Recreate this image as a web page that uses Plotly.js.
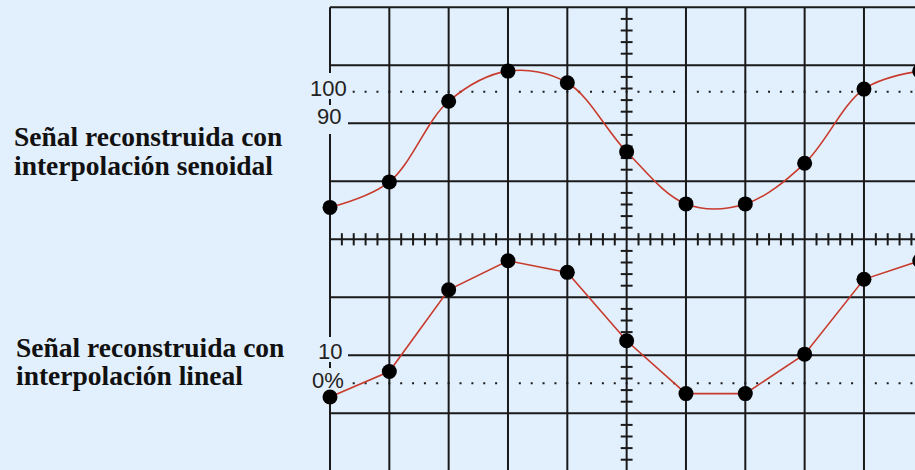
<!DOCTYPE html>
<html>
<head>
<meta charset="utf-8">
<script src="https://cdn.plot.ly/plotly-3.0.1.min.js"></script>
<style>
  body { margin: 0; background: #e2effc; }
</style>
</head>
<body>
<div id="osc" style="width:915px;height:470px;"></div>
<script>
// instantes de muestreo, en divisiones horizontales
var muestrasX = [0, 1, 2, 3, 4, 5, 6, 7, 8, 9, 9.94];
// canal superior: señal con interpolación senoidal (divisiones verticales)
var senoidalY = [0.55, 0.99, 2.38, 2.90, 2.70, 1.51, 0.61, 0.61, 1.31, 2.59, 2.90];
// canal inferior: señal con interpolación lineal
var linealY = [-2.72, -2.28, -0.87, -0.37, -0.57, -1.75, -2.66, -2.66, -1.98, -0.69, -0.37];
// marcas de nivel de la pantalla
var etiquetasNivel = ['100', '90', '10', '0%'];
var titulos = [
    ['Señal reconstruida con', 'interpolación senoidal'],
    ['Señal reconstruida con', 'interpolación lineal']
];

// la rejilla del osciloscopio: pasar de píxeles a divisiones
var X0 = 330, DX = 59.33, Y0 = 239.3, DY = 58;
function px(p) { return (p - X0) / DX; }
function py(p) { return (Y0 - p) / DY; }

var negro = '#1a1a1a';
var shapes = [];
function seg(x0, y0, x1, y1, w) {
    shapes.push({type: 'line', layer: 'below', x0: x0, y0: y0, x1: x1, y1: y1,
                 line: {color: negro, width: w || 2}});
}

// verticales
for (var i = 1; i <= 10; i++) seg(i, -4.2, i, 4);
// vertical izquierda, cortada por las etiquetas
seg(0, 4, 0, py(73));
seg(0, py(99), 0, py(105));
seg(0, py(134), 0, py(337));
seg(0, py(362), 0, py(368));
seg(0, py(398), 0, -4.2);
// horizontales
for (var j = -4; j <= 4; j++) {
    var inicio = (j == 2 || j == -2) ? px(348) : 0;
    seg(inicio, j, 10.5, j);
}
// subdivisiones en los ejes centrales
for (var k = -20; k <= 20; k++) {
    if (k % 5 == 0) continue;
    seg(5 - 0.1, k / 5, 5 + 0.1, k / 5);
}
for (var m = 1; m < 55; m++) {
    if (m % 5 == 0) continue;
    seg(m / 5, -0.105, m / 5, 0.105);
}
// niveles 100% y 0% punteados
[py(91.7), py(383.3)].forEach(function(yv) {
    shapes.push({type: 'line', layer: 'below', x0: 0.383, y0: yv, x1: 10.5, y1: yv,
                 line: {color: negro, width: 2, dash: '2px,9.866px'}});
});

var fuenteNivel = {family: 'Liberation Sans Narrow, Liberation Sans, Arial',
                   size: 22, color: '#222'};
var posNivel = [[328.5, 88], [328.5, 116], [329.7, 351], [327.5, 380]];
var annotations = etiquetasNivel.map(function(t, i) {
    return {text: t, x: px(posNivel[i][0]), y: py(posNivel[i][1]), xref: 'x', yref: 'y',
            showarrow: false, xanchor: 'center', yanchor: 'middle', font: fuenteNivel};
});

var fuenteTitulo = {family: 'Liberation Serif, Times New Roman, serif', size: 27.5,
                    color: '#111', weight: 'bold'};
var lineasY = [[136.5, 165.5], [347, 375.5]];
var lineasX = [11.5, 14];
titulos.forEach(function(lineas, i) {
    lineas.forEach(function(t, n) {
        annotations.push({text: '<b>' + t + '</b>', x: px(lineasX[i]), y: py(lineasY[i][n]),
                          xref: 'x', yref: 'y', showarrow: false,
                          xanchor: 'left', yanchor: 'middle', font: fuenteTitulo});
    });
});

var data = [
    {
        x: muestrasX, y: senoidalY, type: 'scatter', mode: 'lines+markers',
        line: {color: '#c83a2c', width: 1.6, shape: 'spline', smoothing: 1},
        marker: {color: '#000', size: 15}
    },
    {
        x: muestrasX, y: linealY, type: 'scatter', mode: 'lines+markers',
        line: {color: '#c83a2c', width: 1.6},
        marker: {color: '#000', size: 15}
    }
];

var layout = {
    width: 915, height: 470,
    margin: {l: 0, r: 0, t: 0, b: 0},
    paper_bgcolor: '#e2effc',
    plot_bgcolor: '#e2effc',
    showlegend: false,
    xaxis: {range: [px(0), px(915)], visible: false, showgrid: false, zeroline: false},
    yaxis: {range: [py(470), py(0)], visible: false, showgrid: false, zeroline: false},
    shapes: shapes,
    annotations: annotations
};

Plotly.newPlot('osc', data, layout, {displayModeBar: false, staticPlot: true});
</script>
</body>
</html>
